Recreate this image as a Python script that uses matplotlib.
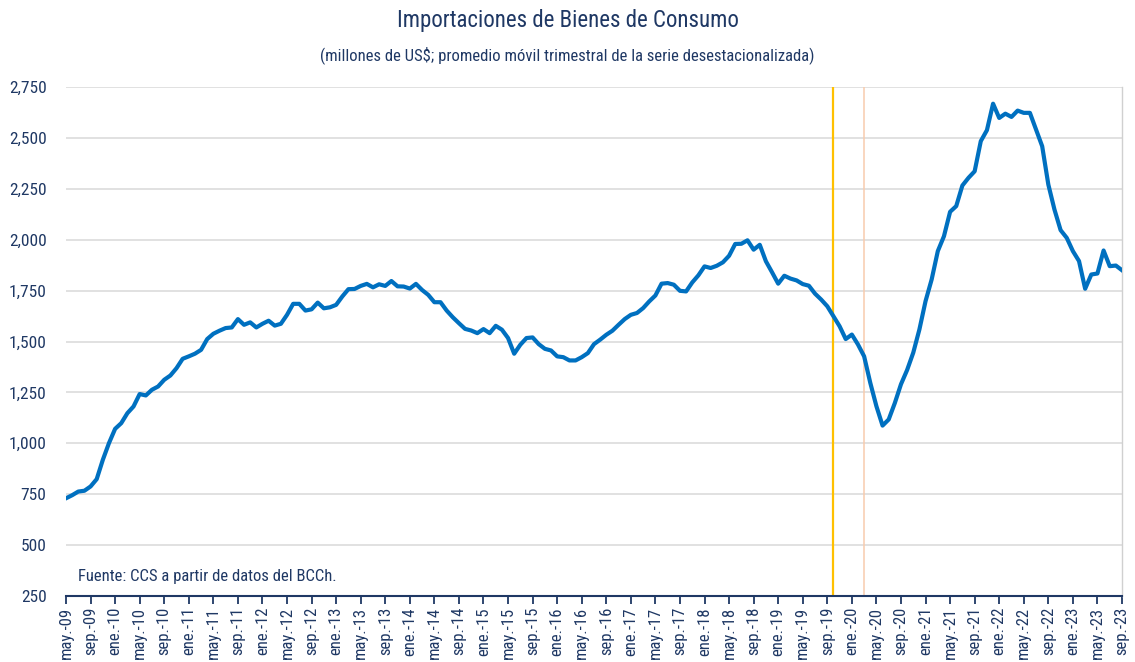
import matplotlib
matplotlib.use("Agg")
import matplotlib.pyplot as plt
from matplotlib.ticker import FuncFormatter, FixedLocator

plt.rcParams['font.family'] = ['Roboto Condensed', 'Open Sans Condensed', 'Liberation Sans Narrow', 'Roboto']
plt.rcParams['font.stretch'] = 'condensed'

# Monthly values, may-09 .. sep-23 (millones de US$)
values = [
    730, 745, 763, 767, 788, 824, 919, 1001, 1071, 1099, 1148, 1181,
    1242, 1235, 1263, 1279, 1312, 1333, 1369, 1415, 1427, 1440, 1459, 1512,
    1538, 1553, 1566, 1569, 1610, 1582, 1594, 1569, 1587, 1602, 1578, 1587,
    1631, 1685, 1685, 1652, 1658, 1691, 1663, 1668, 1680, 1721, 1757, 1758,
    1773, 1783, 1766, 1781, 1773, 1797, 1771, 1770, 1760, 1783, 1753, 1729,
    1693, 1693, 1652, 1619, 1590, 1562, 1554, 1541, 1561, 1541, 1577, 1558,
    1517, 1440, 1484, 1517, 1520, 1487, 1464, 1456, 1427, 1423, 1407, 1407,
    1423, 1443, 1487, 1509, 1533, 1553, 1582, 1610, 1631, 1640, 1664, 1697,
    1726, 1784, 1787, 1779, 1749, 1746, 1790, 1825, 1869, 1861, 1872, 1889,
    1921, 1979, 1980, 1997, 1951, 1975, 1894, 1840, 1784, 1823, 1809, 1800,
    1782, 1774, 1735, 1706, 1673, 1624, 1575, 1512, 1534, 1485, 1427, 1297,
    1182, 1087, 1117, 1198, 1290, 1360, 1445, 1559, 1698, 1805, 1944, 2017,
    2137, 2165, 2266, 2304, 2336, 2484, 2538, 2668, 2598, 2619, 2603, 2634,
    2623, 2623, 2541, 2459, 2271, 2148, 2047, 2009, 1944, 1895, 1759, 1829,
    1834, 1947, 1870, 1873, 1850,
]

tick_labels = [
    "may.-09", "sep.-09", "ene.-10", "may.-10", "sep.-10", "ene.-11", "may.-11",
    "sep.-11", "ene.-12", "may.-12", "sep.-12", "ene.-13", "may.-13", "sep.-13",
    "ene.-14", "may.-14", "sep.-14", "ene.-15", "may.-15", "sep.-15", "ene.-16",
    "may.-16", "sep.-16", "ene.-17", "may.-17", "sep.-17", "ene.-18", "may.-18",
    "sep.-18", "ene.-19", "may.-19", "sep.-19", "ene.-20", "may.-20", "sep.-20",
    "ene.-21", "may.-21", "sep.-21", "ene.-22", "may.-22", "sep.-22", "ene.-23",
    "may.-23", "sep.-23",
]
tick_step = 4
event_months = [125, 130]          # oct-19 (estallido social), mar-20 (COVID-19)
event_colors = ["#FFC000", "#F8CBAD"]
event_widths = [1.6, 1.1]

title = "Importaciones de Bienes de Consumo"
subtitle = "(millones de US$; promedio móvil trimestral de la serie desestacionalizada)"
source = "Fuente: CCS a partir de datos del BCCh."

navy = "#1F3864"
months = list(range(len(values)))

fig = plt.figure(figsize=(11.35, 6.62), dpi=100)
ax = fig.add_axes([66/1135, 1 - 596/662, (1122-66)/1135, (596-87)/662])

for m, c, w in zip(event_months, event_colors, event_widths):
    ax.axvline(m, color=c, lw=w, zorder=2)

ax.plot(months, values, color="#0070C0", lw=3.0, zorder=3, solid_joinstyle="round")

ax.set_xlim(0, len(values) - 1)
ax.set_ylim(250, 2750)
ax.yaxis.set_major_locator(FixedLocator(list(range(250, 2751, 250))))
ax.yaxis.set_major_formatter(FuncFormatter(lambda v, p: f"{int(v):,}"))
ax.grid(axis="y", color="#D9D9D9", lw=1.1, zorder=0)
ax.set_axisbelow(True)

ax.set_xticks(months[::tick_step])
ax.set_xticklabels(tick_labels, rotation=90)

for s in ["left", "top"]:
    ax.spines[s].set_visible(False)
ax.spines["right"].set_color("#D0D0D0")
ax.spines["right"].set_linewidth(1.0)
ax.spines["bottom"].set_color(navy)
ax.spines["bottom"].set_linewidth(1.5)

ax.tick_params(axis="y", length=0, pad=14, labelsize=12.5, labelcolor=navy)
ax.tick_params(axis="x", length=6, width=1.3, color=navy, pad=2, labelsize=12, labelcolor=navy, direction="out")

fig.text(0.5, 1 - 20/662, title, ha="center", va="center", fontsize=16.5, color=navy)
fig.text(0.5, 1 - 55/662, subtitle, ha="center", va="center", fontsize=12, color=navy)
fig.text(78/1135, 1 - 577/662, source, ha="left", va="center", fontsize=12, color=navy)

fig.savefig("out.png", dpi=100)
